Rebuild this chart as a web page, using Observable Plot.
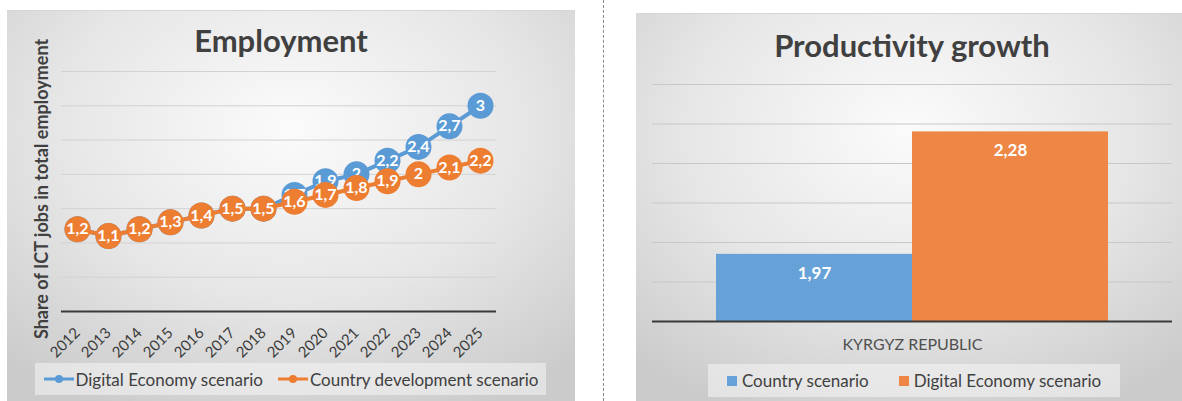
<!DOCTYPE html>
<html><head><meta charset="utf-8">
<script src="https://cdn.jsdelivr.net/npm/d3@7"></script>
<script src="https://cdn.jsdelivr.net/npm/@observablehq/plot@0.6"></script>
<style>
html,body{margin:0;padding:0;}
body{width:1182px;height:401px;background:#fff;position:relative;overflow:hidden;font-family:Lato,"Open Sans",sans-serif;color:#404040;}
.panel{position:absolute;background:radial-gradient(ellipse 75% 80% at 50% 30%, #fbfbfb 0%, #e6e6e6 55%, #cbcbcb 100%);border-top:1px solid #d6d6d6;box-sizing:border-box;}
.abs{position:absolute;}
.title{position:absolute;font-size:31px;line-height:31px;font-weight:bold;color:#404040;text-align:center;white-space:nowrap;}
.legend{position:absolute;background:rgba(245,245,245,0.55);display:flex;align-items:center;justify-content:center;font-size:17px;color:#404040;white-space:nowrap;}
.legend .item{display:flex;align-items:center;}
.sq{display:inline-block;width:10px;height:10px;margin-right:5px;}
</style></head><body>
<div class="panel" style="left:7px;top:10px;width:568px;height:391px"></div>
<div class="abs" style="left:603px;top:0;height:401px;border-left:1px dashed #8a8a8a"></div>
<div class="panel" style="left:636px;top:13px;width:546px;height:388px"></div>

<div class="title" id="t1" style="left:7px;width:548px;top:25px">Employment</div>
<div class="abs" id="ylab" style="left:41px;top:189px;transform:translate(-50%,-50%) rotate(-90deg);font-size:18px;font-weight:bold;white-space:nowrap;color:#404040">Share of ICT jobs in total employment</div>
<div class="abs" id="chart1" style="left:7px;top:60px"></div>
<div class="legend" id="leg1" style="left:35px;top:363px;width:511px;height:32px"></div>

<div class="title" id="t2" style="left:636px;width:552px;top:30px">Productivity growth</div>
<div class="abs" id="chart2" style="left:636px;top:60px"></div>
<div class="legend" id="leg2" style="left:708px;top:364px;width:412px;height:33px"></div>

<script>
// ---- Employment data ----
const years = [2012, 2013, 2014, 2015, 2016, 2017, 2018, 2019, 2020, 2021, 2022, 2023, 2024, 2025];
const digitalEconomy = [1.2, 1.1, 1.2, 1.3, 1.4, 1.5, 1.5, 1.7, 1.9, 2, 2.2, 2.4, 2.7, 3];
const countryDevelopment = [1.2, 1.1, 1.2, 1.3, 1.4, 1.5, 1.5, 1.6, 1.7, 1.8, 1.9, 2, 2.1, 2.2];
const employmentGrid = [0.5, 1, 1.5, 2, 2.5, 3, 3.5];
const employmentSeries = ["Digital Economy scenario", "Country development scenario"];

// ---- Productivity data ----
const countries = ["KYRGYZ REPUBLIC"];
const scenarios = ["Country scenario", "Digital Economy scenario"];
const productivity = [1.97, 2.28];
const productivityGrid = [1.9, 2.0, 2.1, 2.2, 2.3, 2.4];
const productivityBase = 1.8;

const BLUE = "#5B9BD5", ORANGE = "#ED7D31";
const BAR_BLUE = "#66a1d7", BAR_ORANGE = "#ee8745";
const fmt = v => String(v).replace(".", ",");

const dig = years.map((y, i) => ({year: y, value: digitalEconomy[i]}));
const cty = years.map((y, i) => ({year: y, value: countryDevelopment[i]}));

const lab = {fill: "white", fontWeight: "bold", fontSize: 16, fontFamily: "Lato"};

const chart1 = Plot.plot({
  width: 568, height: 300,
  marginLeft: 54, marginRight: 79, marginTop: 11, marginBottom: 49,
  style: {background: "transparent", fontFamily: "Lato", overflow: "visible"},
  x: {type: "point", domain: years, padding: 0.48},
  y: {domain: [0, 3.5], axis: null},
  marks: [
    Plot.ruleY(employmentGrid, {stroke: "#d2d2d2", strokeWidth: 1}),
    Plot.ruleY([0], {stroke: "#3a3a3a", strokeWidth: 2}),
    Plot.axisX({tickRotate: -45, tickSize: 0, tickPadding: 19, fontSize: 15, fill: "#3a3a3a", label: null, tickFormat: d => String(d)}),
    Plot.line(dig, {x: "year", y: "value", stroke: BLUE, strokeWidth: 4}),
    Plot.dot(dig, {x: "year", y: "value", r: 13, fill: BLUE}),
    Plot.text(dig, {x: "year", y: "value", text: d => fmt(d.value), ...lab}),
    Plot.line(cty, {x: "year", y: "value", stroke: ORANGE, strokeWidth: 4}),
    Plot.dot(cty, {x: "year", y: "value", r: 13, fill: ORANGE}),
    Plot.text(cty, {x: "year", y: "value", text: d => fmt(d.value), ...lab})
  ]
});
document.getElementById("chart1").appendChild(chart1);

const prod = scenarios.map((s, i) => ({country: countries[0], scenario: s, value: productivity[i]}));
const chart2 = Plot.plot({
  width: 546, height: 300,
  marginLeft: 16, marginRight: 10, marginTop: 24, marginBottom: 39,
  style: {background: "transparent", fontFamily: "Lato", overflow: "visible"},
  fx: {domain: countries, padding: 0, label: null},
  x: {domain: scenarios, paddingInner: 0, paddingOuter: 0.325, axis: null},
  y: {domain: [productivityBase, 2.4], axis: null},
  color: {domain: scenarios, range: [BAR_BLUE, BAR_ORANGE]},
  marks: [
    Plot.ruleY(productivityGrid, {stroke: "#c8c8c8", strokeWidth: 1}),
    Plot.barY(prod, {fx: "country", x: "scenario", y1: () => productivityBase, y2: "value", fill: "scenario", inset: 0}),
    Plot.text(prod, {fx: "country", x: "scenario", y: "value", text: d => fmt(d.value), dy: 19, ...lab, fontSize: 17}),
    Plot.ruleY([productivityBase], {stroke: "#3a3a3a", strokeWidth: 2}),
    Plot.axisFx({anchor: "bottom", tickSize: 0, tickPadding: 17, fontSize: 16, fill: "#505050", label: null})
  ]
});
document.getElementById("chart2").appendChild(chart2);

// legends
const leg1 = document.getElementById("leg1");
const colors1 = [BLUE, ORANGE];
employmentSeries.forEach((name, i) => {
  const it = document.createElement("div");
  it.className = "item";
  it.style.marginRight = i === 0 ? "14px" : "0";
  it.innerHTML = `<svg width="32" height="12" style="margin-right:1px"><line x1="1" x2="31" y1="6" y2="6" stroke="${colors1[i]}" stroke-width="3"/><circle cx="16" cy="6" r="4" fill="${colors1[i]}"/></svg><span>${name}</span>`;
  leg1.appendChild(it);
});
const leg2 = document.getElementById("leg2");
const colors2 = [BAR_BLUE, BAR_ORANGE];
scenarios.forEach((name, i) => {
  const it = document.createElement("div");
  it.className = "item";
  it.style.marginRight = i === 0 ? "30px" : "0";
  it.innerHTML = `<span class="sq" style="background:${colors2[i]}"></span><span>${name}</span>`;
  leg2.appendChild(it);
});
</script>
</body></html>
